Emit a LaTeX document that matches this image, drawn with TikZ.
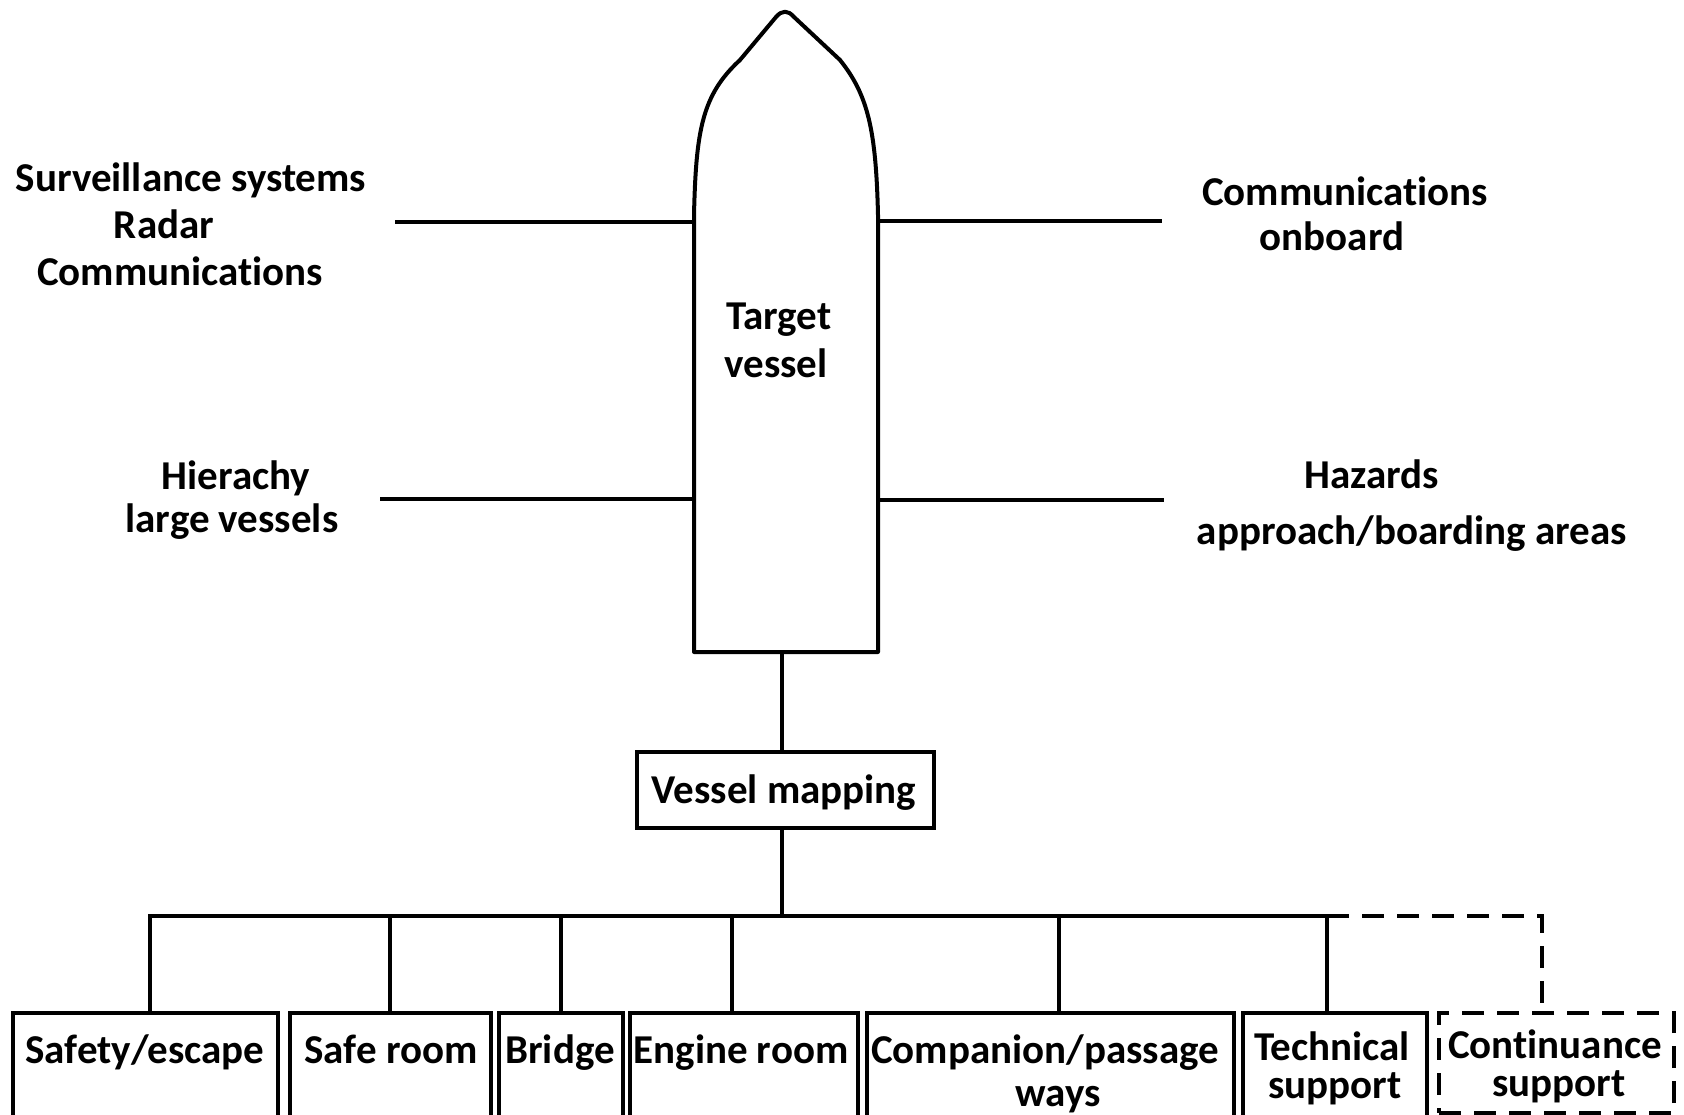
\documentclass[tikz,border=0pt]{standalone}
\usepackage{fontspec}
\setmainfont{Carlito}[RawFeature={-liga;-dlig;-clig}]
\begin{document}
\begin{tikzpicture}[x=1pt,y=-1pt,
  ln/.style={line width=4pt},
  dsh/.style={line width=4pt,dash pattern=on 22pt off 13pt},
  lbl/.style={anchor=base,inner sep=0pt,font=\fontsize{41}{47}\selectfont\bfseries},
  boxx/.style={draw,line width=4pt,inner sep=0pt,anchor=north west}]
\useasboundingbox (0,0) rectangle (1684,1114);
\clip (0,0) rectangle (1684,1114);
% hull
\draw[ln,line join=round] (694,652) -- (694,215) .. controls (696,130) and (702,95) .. (740,60)
  -- (776,17) .. controls (782,10) and (788,10) .. (794,17) -- (840,60)
  .. controls (868,95) and (876,130) .. (878,215) -- (878,652) -- cycle;
\coordinate (hl1) at (694,222); \coordinate (hr1) at (878,221);
\coordinate (hl2) at (694,499); \coordinate (hr2) at (878,500);
\coordinate (hb) at (782,652);
\coordinate (el1) at (395,222); \coordinate (er1) at (1162,221);
\coordinate (el2) at (380,499); \coordinate (er2) at (1164,500);
\draw[ln] (el1) -- (hl1); \draw[ln] (hr1) -- (er1);
\draw[ln] (el2) -- (hl2); \draw[ln] (hr2) -- (er2);
% labels
\node[lbl] (t1) at (191,191) {Surveillance systems};
\node[lbl] (t2) at (164,238) {Radar};
\node[lbl] (t3) at (180,285) {Communications};
\node[lbl] (t4) at (1345,205) {Communications};
\node[lbl] (t5) at (1332,250) {onboard};
\node[lbl] (t6) at (779,329) {Target};
\node[lbl] (t7) at (776,377) {vessel};
\node[lbl] (t8) at (236,489) {Hierachy};
\node[lbl] (t9) at (232,532) {large vessels};
\node[lbl] (t10) at (1372,488) {Hazards};
\node[lbl] (t11) at (1412,544) {approach/boarding areas};
% vessel mapping
\node[draw,line width=4pt,minimum width=297pt,minimum height=76pt,inner sep=0pt] (vm) at (785.5,790) {};
\node[lbl] (vmt) at (784,803) {Vessel mapping};
\draw[ln] (hb) -- (hb |- vm.north);
\coordinate (bj) at (782,916);
\draw[ln] (hb |- vm.south) -- (bj);
% bus
\coordinate (s1) at (150,916); \coordinate (s2) at (390,916); \coordinate (s3) at (561,916);
\coordinate (s4) at (732,916); \coordinate (s5) at (1059,916); \coordinate (s6) at (1327,916);
\coordinate (s7) at (1542,916);
\draw[ln] ([xshift=-2pt]s1) -- (s6);
\draw[dsh] (s6) -- (s7) -- ++(0,95);
% bottom boxes
\node[boxx,minimum width=265pt,minimum height=140pt] (b1) at (11,1011) {};
\node[boxx,minimum width=201pt,minimum height=140pt] (b2) at (288,1011) {};
\node[boxx,minimum width=124pt,minimum height=140pt] (b3) at (497,1011) {};
\node[boxx,minimum width=228pt,minimum height=140pt] (b4) at (628,1011) {};
\node[boxx,minimum width=367pt,minimum height=140pt] (b5) at (865,1011) {};
\node[boxx,minimum width=184pt,minimum height=140pt] (b6) at (1241,1011) {};
\node[boxx,dsh,minimum width=235pt,minimum height=100pt] (b7) at (1437,1011) {};
\draw[ln] (s1) -- (s1 |- b1.north);
\draw[ln] (s2) -- (s2 |- b2.north);
\draw[ln] (s3) -- (s3 |- b3.north);
\draw[ln] (s4) -- (s4 |- b4.north);
\draw[ln] (s5) -- (s5 |- b5.north);
\draw[ln] (s6) -- (s6 |- b6.north);
\node[lbl] (l1) at (145,1063) {Safety/escape};
\node[lbl] (l2) at (391,1063) {Safe room};
\node[lbl] (l3) at (560,1063) {Bridge};
\node[lbl] (l4) at (741,1063) {Engine room};
\node[lbl] (l5) at (1045,1063) {Companion/passage};
\node[lbl] (l5b) at (1058,1106) {ways};
\node[lbl] (l6) at (1332,1060) {Technical};
\node[lbl] (l6b) at (1335,1098) {support};
\node[lbl] (l7) at (1555,1058) {Continuance};
\node[lbl] (l7b) at (1559,1096) {support};
\end{tikzpicture}
\end{document}
